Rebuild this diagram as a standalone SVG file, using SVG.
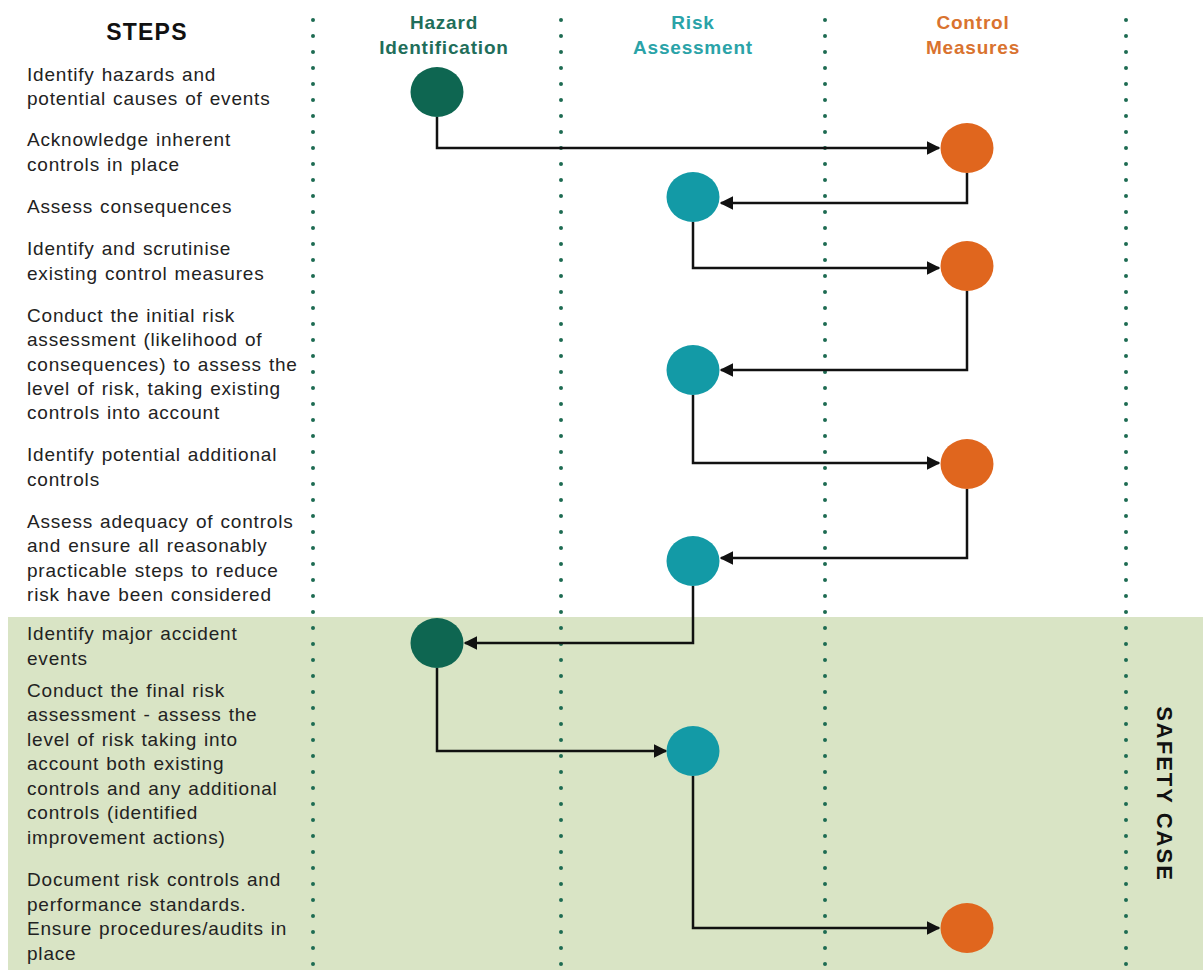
<svg xmlns="http://www.w3.org/2000/svg" width="1203" height="970" viewBox="0 0 1203 970">
<defs>
<marker id="arr" viewBox="0 0 10 10" refX="9" refY="5" markerWidth="5.5" markerHeight="5.5" orient="auto" markerUnits="strokeWidth"><path d="M0,0 L10,5 L0,10 z" fill="#111"/></marker>
<style>
.step{font-family:"Liberation Sans",Arial,sans-serif;font-size:19px;letter-spacing:0.8px;word-spacing:1px;fill:#222}
.hdr{font-family:"Liberation Sans",Arial,sans-serif;font-size:19px;letter-spacing:0.8px;font-weight:bold;text-anchor:middle}
.dot{stroke:#1d6b52;stroke-width:4;stroke-linecap:round;stroke-dasharray:0 16;fill:none}
.con{stroke:#111;stroke-width:2.5;fill:none;marker-end:url(#arr)}
.hz{fill:#0e6651}
.ra{fill:#139aa6}
.cm{fill:#e0661e}
</style>
</defs>
<rect x="0" y="0" width="1203" height="970" fill="#ffffff"/>
<rect id="safety-band" x="8" y="617" width="1195" height="353" fill="#d9e4c5"/>
<g id="lanes">
<line class="dot" x1="313" y1="20" x2="313" y2="970"/>
<line class="dot" x1="561" y1="20" x2="561" y2="970"/>
<line class="dot" x1="825" y1="20" x2="825" y2="970"/>
<line class="dot" x1="1126" y1="20" x2="1126" y2="970"/>
</g>
<g id="headers">
<text x="147" y="40" class="hdr" style="font-size:23px;letter-spacing:1.2px" fill="#111">STEPS</text>
<text class="hdr" fill="#1f6e5a"><tspan x="444" y="29">Hazard</tspan><tspan x="444" y="54">Identification</tspan></text>
<text class="hdr" fill="#2aa3a8"><tspan x="693" y="29">Risk</tspan><tspan x="693" y="54">Assessment</tspan></text>
<text class="hdr" fill="#d9732f"><tspan x="973" y="29">Control</tspan><tspan x="973" y="54">Measures</tspan></text>
<text x="1164" y="794" class="hdr" style="font-size:22px;letter-spacing:2px" fill="#111" transform="rotate(90 1164 794)" dominant-baseline="central">SAFETY CASE</text>
</g>
<g id="steps">
<text class="step"><tspan x="27" y="81">Identify hazards and</tspan><tspan x="27" y="105">potential causes of events</tspan></text>
<text class="step"><tspan x="27" y="146">Acknowledge inherent</tspan><tspan x="27" y="171">controls in place</tspan></text>
<text class="step"><tspan x="27" y="213">Assess consequences</tspan></text>
<text class="step"><tspan x="27" y="255">Identify and scrutinise</tspan><tspan x="27" y="280">existing control measures</tspan></text>
<text class="step"><tspan x="27" y="322">Conduct the initial risk</tspan><tspan x="27" y="346">assessment (likelihood of</tspan><tspan x="27" y="371">consequences) to assess the</tspan><tspan x="27" y="395">level of risk, taking existing</tspan><tspan x="27" y="419">controls into account</tspan></text>
<text class="step"><tspan x="27" y="461">Identify potential additional</tspan><tspan x="27" y="486">controls</tspan></text>
<text class="step"><tspan x="27" y="528">Assess adequacy of controls</tspan><tspan x="27" y="552">and ensure all reasonably</tspan><tspan x="27" y="577">practicable steps to reduce</tspan><tspan x="27" y="601">risk have been considered</tspan></text>
<text class="step"><tspan x="27" y="640">Identify major accident</tspan><tspan x="27" y="665">events</tspan></text>
<text class="step"><tspan x="27" y="697">Conduct the final risk</tspan><tspan x="27" y="721">assessment - assess the</tspan><tspan x="27" y="746">level of risk taking into</tspan><tspan x="27" y="770">account both existing</tspan><tspan x="27" y="795">controls and any additional</tspan><tspan x="27" y="819">controls (identified</tspan><tspan x="27" y="844">improvement actions)</tspan></text>
<text class="step"><tspan x="27" y="886">Document risk controls and</tspan><tspan x="27" y="911">performance standards.</tspan><tspan x="27" y="935">Ensure procedures/audits in</tspan><tspan x="27" y="960">place</tspan></text>
</g>
<g id="connectors">
<path class="con" d="M437,117 V148 H939"/>
<path class="con" d="M967,173 V203 H721"/>
<path class="con" d="M693,222 V268 H939"/>
<path class="con" d="M967,291 V370 H721"/>
<path class="con" d="M693,395 V463 H939"/>
<path class="con" d="M967,489 V558 H721"/>
<path class="con" d="M693,586 V643 H465"/>
<path class="con" d="M437,668 V751 H666"/>
<path class="con" d="M693,776 V928 H939"/>
</g>
<g id="n1"><ellipse class="hz" cx="437" cy="92" rx="26.5" ry="25"/></g>
<g id="n2"><ellipse class="cm" cx="967" cy="148" rx="26.5" ry="25"/></g>
<g id="n3"><ellipse class="ra" cx="693" cy="197" rx="26.5" ry="25"/></g>
<g id="n4"><ellipse class="cm" cx="967" cy="266" rx="26.5" ry="25"/></g>
<g id="n5"><ellipse class="ra" cx="693" cy="370" rx="26.5" ry="25"/></g>
<g id="n6"><ellipse class="cm" cx="967" cy="464" rx="26.5" ry="25"/></g>
<g id="n7"><ellipse class="ra" cx="693" cy="561" rx="26.5" ry="25"/></g>
<g id="n8"><ellipse class="hz" cx="437" cy="643" rx="26.5" ry="25"/></g>
<g id="n9"><ellipse class="ra" cx="693" cy="751" rx="26.5" ry="25"/></g>
<g id="n10"><ellipse class="cm" cx="967" cy="928" rx="26.5" ry="25"/></g>
</svg>
